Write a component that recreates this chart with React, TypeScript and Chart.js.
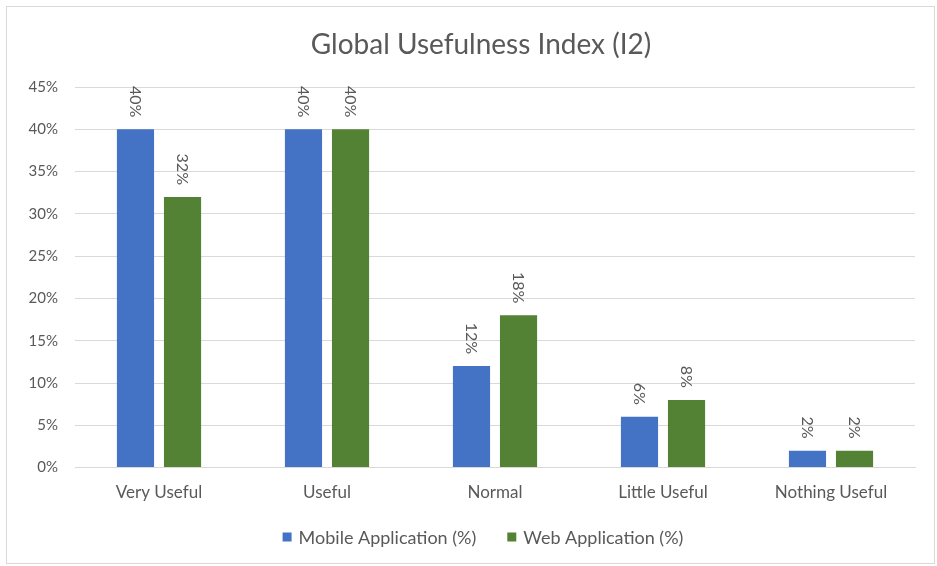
import React, { useEffect, useRef } from "react";
import { Chart, registerables } from "chart.js";

Chart.register(...registerables);

const categories = ["Very Useful", "Useful", "Normal", "Little Useful", "Nothing Useful"];
const mobileValues = [40, 40, 12, 6, 2];
const webValues = [32, 40, 18, 8, 2];
const seriesNames = ["Mobile Application (%)", "Web Application (%)"];
const seriesColors = ["#4472C4", "#548235"];
const titleText = "Global Usefulness Index (I2)";

const FONT = "Lato, 'Open Sans', sans-serif";
const TEXT = "#595959";

const rotatedLabels = {
  id: "rotatedLabels",
  afterDatasetsDraw(chart: any) {
    const ctx = chart.ctx;
    ctx.save();
    ctx.fillStyle = TEXT;
    ctx.font = `16px ${FONT}`;
    ctx.textAlign = "right";
    ctx.textBaseline = "middle";
    chart.data.datasets.forEach((ds: any, di: number) => {
      const meta = chart.getDatasetMeta(di);
      meta.data.forEach((bar: any, i: number) => {
        const v = ds.data[i];
        ctx.save();
        ctx.translate(bar.x, bar.y - 12);
        ctx.rotate(Math.PI / 2);
        ctx.fillText(v + "%", 0, 0);
        ctx.restore();
      });
    });
    ctx.restore();
  },
};

// Title and legend drawn centred on the same axis as the reference
const titleAndLegend = {
  id: "titleAndLegend",
  afterDraw(chart: any) {
    const ctx = chart.ctx;
    const cx = 483;
    ctx.save();
    ctx.fillStyle = TEXT;
    ctx.textBaseline = "middle";
    ctx.textAlign = "center";
    ctx.font = `28px ${FONT}`;
    ctx.fillText(titleText, 481, 45);

    ctx.font = `18px ${FONT}`;
    const box = 9;
    const gapBoxText = 7;
    const gapItems = 31;
    const items = chart.data.datasets.map((ds: any) => ({
      label: ds.label,
      color: ds.backgroundColor,
      w: box + gapBoxText + ctx.measureText(ds.label).width,
    }));
    const total = items.reduce((a: number, it: any) => a + it.w, 0) + gapItems * (items.length - 1);
    let x = cx - total / 2;
    const y = 537;
    ctx.textAlign = "left";
    items.forEach((it: any) => {
      ctx.fillStyle = it.color;
      ctx.fillRect(x, y - box / 2, box, box);
      ctx.fillStyle = TEXT;
      ctx.fillText(it.label, x + box + gapBoxText, y + 1);
      x += it.w + gapItems;
    });
    ctx.restore();
  },
};

export default function App() {
  const ref = useRef<HTMLCanvasElement>(null);
  useEffect(() => {
    if (!ref.current) return;
    const chart = new Chart(ref.current, {
      type: "bar",
      data: {
        labels: categories,
        datasets: [
          {
            label: seriesNames[0],
            data: mobileValues,
            backgroundColor: seriesColors[0],
            categoryPercentage: 0.56,
            barPercentage: 0.79,
          },
          {
            label: seriesNames[1],
            data: webValues,
            backgroundColor: seriesColors[1],
            categoryPercentage: 0.56,
            barPercentage: 0.79,
          },
        ],
      },
      options: {
        animation: false,
        responsive: false,
        maintainAspectRatio: false,
        layout: { padding: { left: 0, right: 22, top: 87, bottom: 48 } },
        plugins: {
          title: { display: false },
          legend: { display: false },
          tooltip: { enabled: false },
        },
        scales: {
          x: {
            grid: { display: false, drawTicks: false },
            border: { display: true, color: "#d9d9d9" },
            ticks: { color: TEXT, font: { family: FONT, size: 17 }, padding: 15 },
          },
          y: {
            min: 0,
            max: 45,
            afterFit: (s: any) => {
              s.width = 75;
            },
            grid: { color: "#d9d9d9", drawTicks: false },
            border: { display: false },
            ticks: {
              stepSize: 5,
              color: TEXT,
              font: { family: FONT, size: 15 },
              padding: 17,
              callback: (v: any) => v + "%",
            },
          },
        },
      },
      plugins: [rotatedLabels, titleAndLegend],
    });
    return () => chart.destroy();
  }, []);
  return (
    <div style={{ position: "absolute", left: 0, top: 0, width: 937, height: 566, background: "#fff" }}>
      <canvas ref={ref} width={937} height={566} style={{ position: "absolute", left: 0, top: 0 }} />
      <div
        style={{
          position: "absolute",
          left: 6,
          top: 6,
          width: 927,
          height: 556,
          border: "1px solid #d9d9d9",
          pointerEvents: "none",
        }}
      />
    </div>
  );
}
